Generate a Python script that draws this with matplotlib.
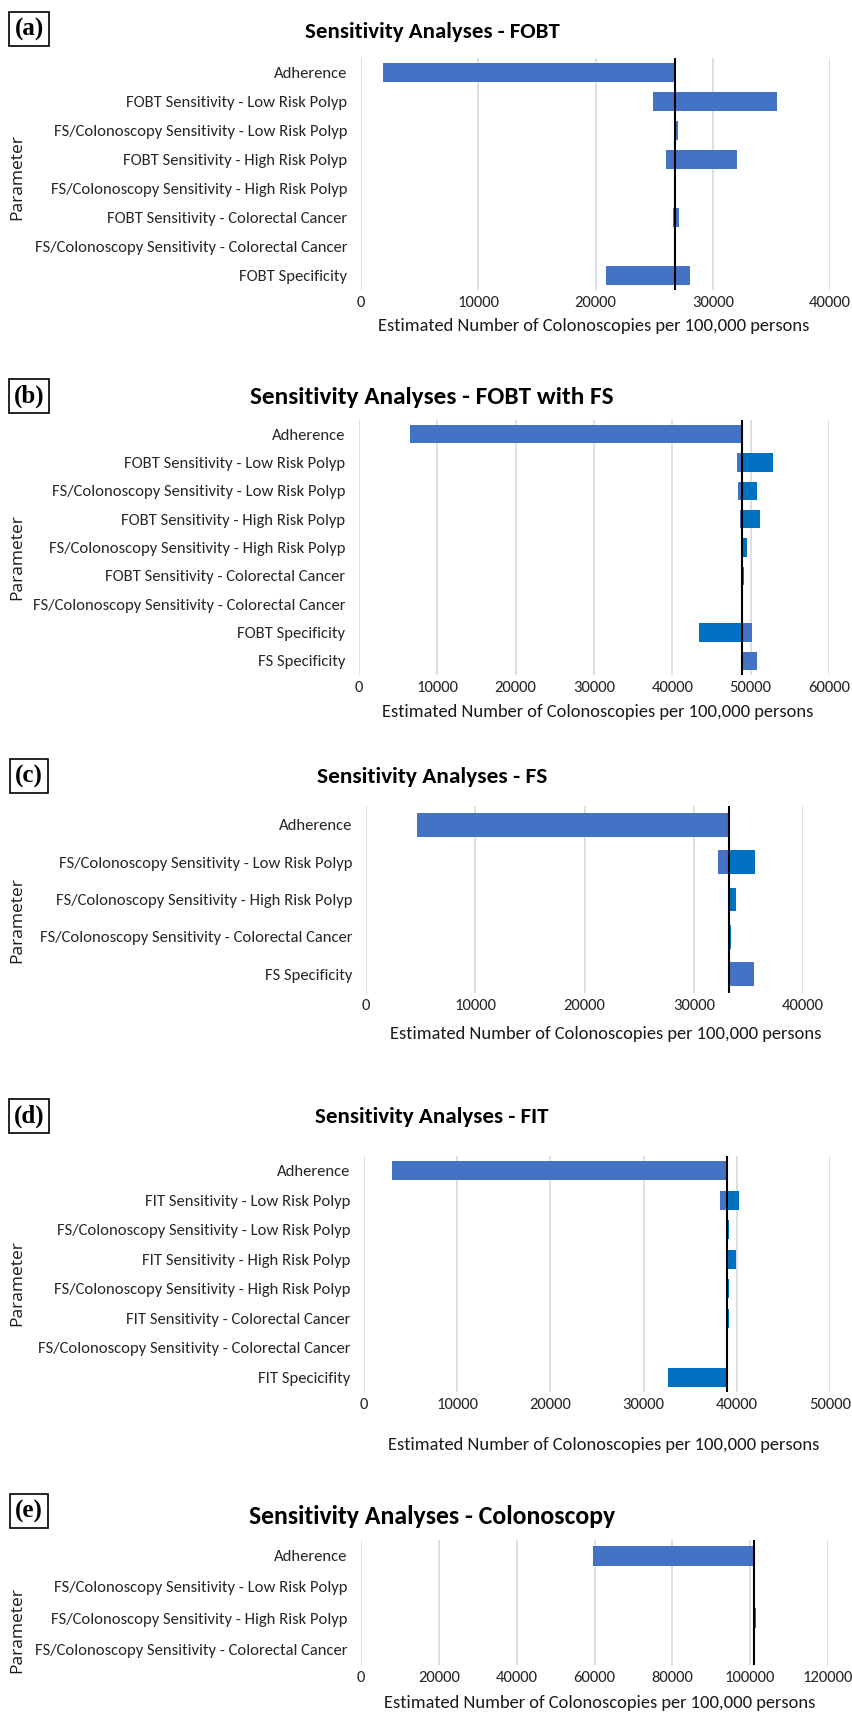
import matplotlib
matplotlib.use("Agg")
import matplotlib.pyplot as plt
import numpy as np

LIGHT = "#4472C4"
DARK = "#0070C0"

# FOBT
fobt_params = ["Adherence", "FOBT Sensitivity - Low Risk Polyp", "FS/Colonoscopy Sensitivity - Low Risk Polyp",
               "FOBT Sensitivity - High Risk Polyp", "FS/Colonoscopy Sensitivity - High Risk Polyp",
               "FOBT Sensitivity - Colorectal Cancer", "FS/Colonoscopy Sensitivity - Colorectal Cancer",
               "FOBT Specificity"]
fobt_base = 26800
fobt_low = [1900, 24900, 26800, 26000, 26750, 26650, 26780, 28100]
fobt_high = [26850, 35500, 27000, 32100, 26850, 27100, 26830, 20900]

# FOBT with FS
fobtfs_params = ["Adherence", "FOBT Sensitivity - Low Risk Polyp", "FS/Colonoscopy Sensitivity - Low Risk Polyp",
                 "FOBT Sensitivity - High Risk Polyp", "FS/Colonoscopy Sensitivity - High Risk Polyp",
                 "FOBT Sensitivity - Colorectal Cancer", "FS/Colonoscopy Sensitivity - Colorectal Cancer",
                 "FOBT Specificity", "FS Specificity"]
fobtfs_base = 48950
fobtfs_low = [6500, 48240, 48360, 48660, 48950, 48950, 48950, 50190, 50830]
fobtfs_high = [48950, 52910, 50830, 51210, 49550, 49210, 48950, 43460, 48950]

# FS
fs_params = ["Adherence", "FS/Colonoscopy Sensitivity - Low Risk Polyp",
             "FS/Colonoscopy Sensitivity - High Risk Polyp",
             "FS/Colonoscopy Sensitivity - Colorectal Cancer", "FS Specificity"]
fs_base = 33250
fs_low = [4700, 32250, 33250, 33250, 35550]
fs_high = [33250, 35600, 33900, 33400, 33250]

# FIT
fit_params = ["Adherence", "FIT Sensitivity - Low Risk Polyp", "FS/Colonoscopy Sensitivity - Low Risk Polyp",
              "FIT Sensitivity - High Risk Polyp", "FS/Colonoscopy Sensitivity - High Risk Polyp",
              "FIT Sensitivity - Colorectal Cancer", "FS/Colonoscopy Sensitivity - Colorectal Cancer",
              "FIT Specicifity"]
fit_base = 39000
fit_low = [3000, 38200, 39000, 39000, 39000, 39000, 39000, 39000]
fit_high = [39000, 40200, 39200, 39900, 39200, 39200, 39100, 32600]

# Colonoscopy
col_params = ["Adherence", "FS/Colonoscopy Sensitivity - Low Risk Polyp",
              "FS/Colonoscopy Sensitivity - High Risk Polyp",
              "FS/Colonoscopy Sensitivity - Colorectal Cancer"]
col_base = 101000
col_low = [59700, 101000, 101000, 101000]
col_high = [101000, 101000, 101400, 101000]

panels = [
    ("(a)", "Sensitivity Analyses - FOBT", fobt_params, fobt_base, fobt_low, fobt_high, 40000, 10000, LIGHT, LIGHT),
    ("(b)", "Sensitivity Analyses - FOBT with FS", fobtfs_params, fobtfs_base, fobtfs_low, fobtfs_high, 60000, 10000, LIGHT, DARK),
    ("(c)", "Sensitivity Analyses - FS", fs_params, fs_base, fs_low, fs_high, 40000, 10000, LIGHT, DARK),
    ("(d)", "Sensitivity Analyses - FIT", fit_params, fit_base, fit_low, fit_high, 50000, 10000, LIGHT, DARK),
    ("(e)", "Sensitivity Analyses - Colonoscopy", col_params, col_base, col_low, col_high, 120000, 20000, LIGHT, DARK),
]

# pixel layout: axes left/right/top/bottom, label box y, title y/size, xlabel x/y, ylabel y
layout = [
    dict(ax=(361, 830, 58, 290), box=29, title=(32, 16.5), xlab=(594, 326), ylab=177),
    dict(ax=(359, 829, 420, 675), box=396, title=(397, 18.2), xlab=(598, 712), ylab=557),
    dict(ax=(366, 803, 806, 993), box=776, title=(777, 16.8), xlab=(606, 1034), ylab=920),
    dict(ax=(364, 830, 1156, 1392), box=1116, title=(1117, 16.6), xlab=(604, 1445), ylab=1283),
    dict(ax=(361, 828, 1540, 1665), box=1511, title=(1517, 18.5), xlab=(600, 1703), ylab=1630),
]

W, H = 852, 1713
fig = plt.figure(figsize=(W / 100, H / 100), dpi=100)

narrow = ["Carlito", "Archivo Narrow", "Liberation Sans", "DejaVu Sans"]

for (tag, title, params, base, low, high, xmax, step, c_low, c_high), lay in zip(panels, layout):
    l, r, t, b = lay["ax"]
    ax = fig.add_axes([l / W, 1 - b / H, (r - l) / W, (b - t) / H])
    y = np.arange(len(params))
    low = np.array(low)
    high = np.array(high)
    ax.barh(y, low - base, left=base, height=0.64, color=c_low, zorder=2)
    ax.barh(y, high - base, left=base, height=0.64, color=c_high, zorder=2)
    ax.axvline(base, color="black", lw=1.5, zorder=3)
    ax.set_xlim(0, xmax)
    ax.set_ylim(len(params) - 0.5, -0.5)
    ax.set_xticks(np.arange(0, xmax + 1, step))
    ax.set_yticks(y)
    ax.set_yticklabels(params, family=narrow, fontsize=12, color="#262626")
    for lb in ax.get_xticklabels():
        lb.set_family(narrow)
        lb.set_fontsize(12)
        lb.set_color("#262626")
    ax.tick_params(length=0, pad=4)
    ax.tick_params(axis="y", pad=10)
    ax.grid(axis="x", color="#D9D9D9", lw=1.2, zorder=0)
    for s in ax.spines.values():
        s.set_visible(False)

    fig.text(lay["xlab"][0] / W, 1 - lay["xlab"][1] / H,
             "Estimated Number of Colonoscopies per 100,000 persons",
             ha="center", va="center", family=narrow, fontsize=13.3, color="#1a1a1a")
    ty, tsize = lay["title"]
    fig.text(432 / W, 1 - ty / H, title, ha="center", va="center",
             family=narrow, fontsize=tsize, fontweight="bold")
    fig.text(17 / W, 1 - lay["ylab"] / H, "Parameter", ha="center", va="center",
             rotation=90, family="Open Sans", fontsize=12.5, color="#1a1a1a")
    fig.text(29 / W, 1 - lay["box"] / H, tag, ha="center", va="center",
             family="Liberation Serif", fontweight="bold", fontsize=18,
             bbox=dict(boxstyle="square,pad=0.2", fc="white", ec="black", lw=1.2))

fig.savefig("out.png", dpi=100)
